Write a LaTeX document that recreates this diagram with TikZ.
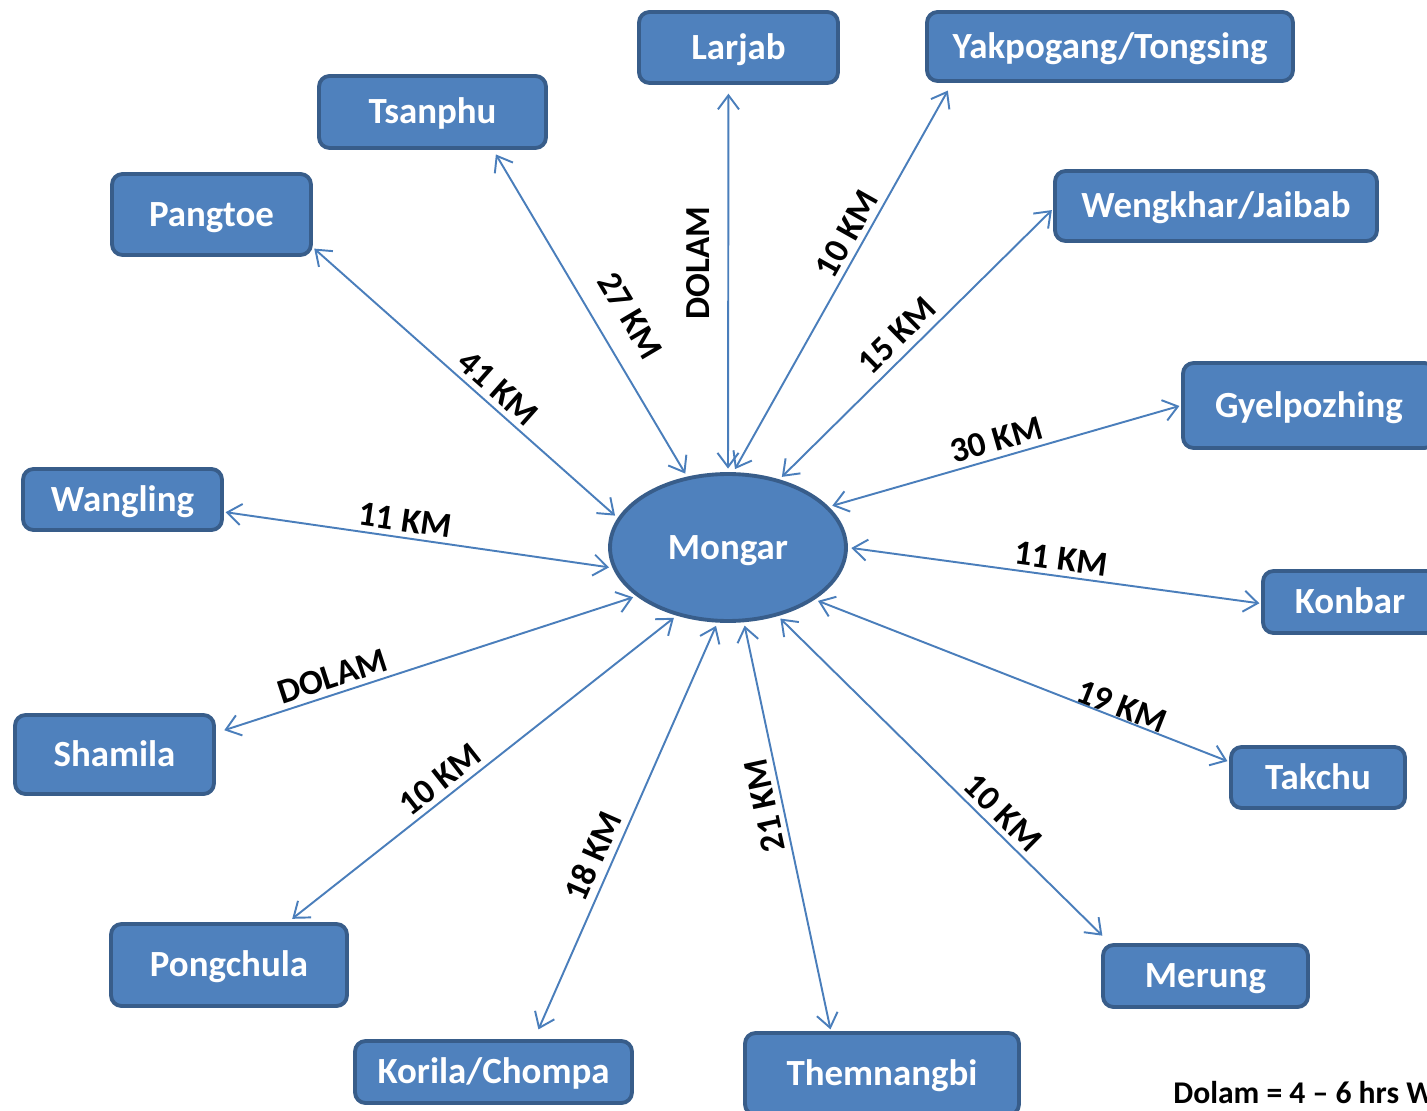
\documentclass[tikz,border=0pt]{standalone}
\usepackage{fontspec}
\setmainfont{Carlito}
\usetikzlibrary{shapes,arrows.meta}
\definecolor{boxblue}{HTML}{4F81BD}
\definecolor{boxedge}{HTML}{385D8A}
\definecolor{linkblue}{HTML}{4A7EBB}

\begin{document}
\begin{tikzpicture}[x=0.02cm, y=-0.02cm, >={Straight Barb[length=8pt,width=12pt]},
    place/.style={draw=boxedge, fill=boxblue, line width=2.2pt, rounded corners=6pt, text=white,
        font=\fontsize{21}{25}\selectfont\bfseries, inner sep=0pt, text height=13.5pt, text depth=0pt},
    town/.style={place, ellipse, sharp corners},
    link/.style={<->, draw=linkblue, line width=1.1pt, shorten <=2pt, shorten >=1pt},
    dist/.style={font=\fontsize{20}{24}\selectfont\bfseries, sloped, above, inner sep=3pt}]

    \useasboundingbox (0,0) rectangle (1427,1111);

    \draw(728,547.5) node[town, minimum width=4.72cm, minimum height=2.94cm] (M) {Mongar};

    \draw(738.5,47.5) node[place, minimum width=3.98cm, minimum height=1.42cm] (La) {Larjab};
    \draw(1110,46.5) node[place, minimum width=7.32cm, minimum height=1.38cm] (Ya) {Yakpogang/Tongsing};
    \draw(432.5,112) node[place, minimum width=4.54cm, minimum height=1.44cm] (Ts) {Tsanphu};
    \draw(211.5,214.5) node[place, minimum width=3.98cm, minimum height=1.62cm] (Pa) {Pangtoe};
    \draw(1216,206) node[place, minimum width=6.44cm, minimum height=1.40cm] (We) {Wengkhar/Jaibab};
    \draw(1309,405.5) node[place, minimum width=5.04cm, minimum height=1.70cm] (Gy) {Gyelpozhing};
    \draw(122.5,499.5) node[place, minimum width=3.98cm, minimum height=1.22cm] (Wa) {Wangling};
    \draw(1350,602) node[place, minimum width=3.48cm, minimum height=1.24cm] (Ko) {Konbar};
    \draw(114.5,754.5) node[place, minimum width=3.98cm, minimum height=1.58cm] (Sh) {Shamila};
    \draw(1318,777.5) node[place, minimum width=3.48cm, minimum height=1.22cm] (Ta) {Takchu};
    \draw(229,965) node[place, minimum width=4.72cm, minimum height=1.64cm] (Po) {Pongchula};
    \draw(1205.5,976) node[place, minimum width=4.10cm, minimum height=1.24cm] (Me) {Merung};
    \draw(493.5,1072) node[place, minimum width=5.54cm, minimum height=1.24cm] (Kc) {Korila/Chompa};
    \draw(882,1074) node[place, minimum width=5.48cm, minimum height=1.64cm] (Th) {Themnangbi};

    \draw[link, shorten >=5pt] (M.90) -- node[dist, pos=0.54, above=7pt] {DOLAM} (La.-105.6);
    \draw[link, shorten >=5pt] (M.86.3) -- node[dist, pos=0.59] {10 KM} (Ya.-167.5);
    \draw[link, shorten >=3pt] (M.120.6) -- node[dist, pos=0.44, above=9pt] {27 KM} (Ts.-32.1);
    \draw[link] (M.165.7) -- node[dist, pos=0.43] {41 KM} (Pa.-18.3);
    \draw[link] (M.53) -- node[dist, pos=0.48, above=1pt] {15 KM} (We.181);
    \draw[link] (M.22.2) -- node[dist, pos=0.49] {30 KM} (Gy.180);
    \draw[link] (M.190.4) -- node[dist, pos=0.54] {11 KM} (Wa.-7);
    \draw[link] (M.0) -- node[dist, pos=0.51] {11 KM} (Ko.181);
    \draw[link, shorten >=5pt] (M.208.7) -- node[dist, pos=0.71] {DOLAM} (Sh.12.2);
    \draw[link] (M.-31.6) -- node[dist, pos=0.73, above=-3pt] {19 KM} (Ta.170.1);
    \draw[link, shorten >=3pt] (M.233.8) -- node[dist, pos=0.58] {10 KM} (Po.36.6);
    \draw[link, shorten >=6pt] (M.-54.3) -- node[dist, pos=0.64] {10 KM} (Me.161.1);
    \draw[link, shorten >=6pt] (M.-98.9) -- node[dist, pos=0.58, above=1pt] {18 KM} (Kc.39.9);
    \draw[link] (M.-78.3) -- node[dist, pos=0.44, rotate=180] {21 KM} (Th.140.4);

    \draw(1173,1103) node[anchor=base west, inner sep=0pt, font=\fontsize{18}{21}\selectfont\bfseries] (note) {Dolam = 4 – 6 hrs W};

\end{tikzpicture}
\end{document}
